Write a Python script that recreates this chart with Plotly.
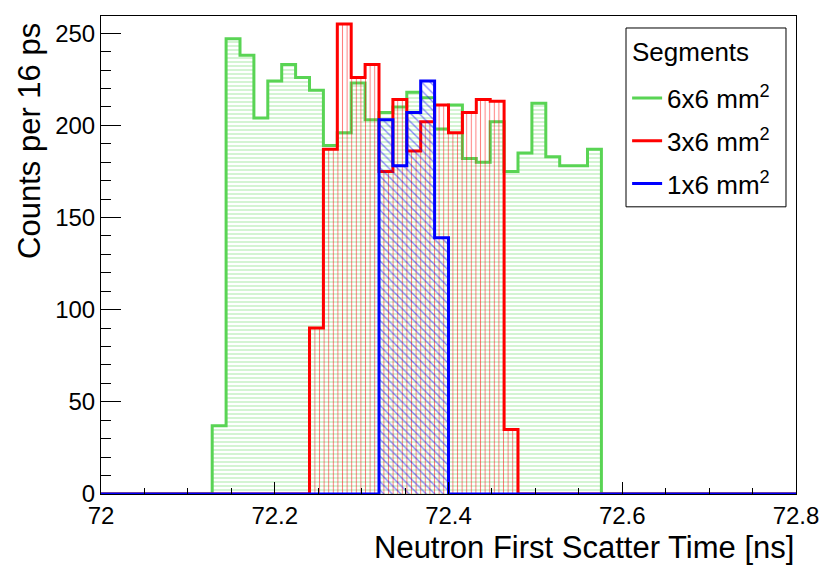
import numpy as np
import plotly.graph_objects as go

# ---- data ----
x_min, x_max, bin_width = 72.0, 72.8, 0.016
n_bins = 50

green_start = 8
green_counts = [37, 247, 238, 204, 224, 233, 226, 219, 189, 196, 223, 203, 207, 210,
                218, 215, 198, 211, 182, 180, 202, 175, 185, 212, 183, 178, 178, 187]
red_start = 15
red_counts = [90, 187, 255, 226, 233, 175, 214, 186, 202, 211, 196, 207, 214, 213, 35]
blue_start = 20
blue_counts = [203, 178, 207, 224, 139]

series_names = ["6x6 mm<sup>2</sup>", "3x6 mm<sup>2</sup>", "1x6 mm<sup>2</sup>"]
legend_title = "Segments"
x_ticks = [72.0, 72.2, 72.4, 72.6, 72.8]
x_tick_labels = ["72", "72.2", "72.4", "72.6", "72.8"]
y_ticks = [0, 50, 100, 150, 200, 250]

edges = x_min + bin_width * np.arange(n_bins + 1)


def full(start, counts):
    arr = np.zeros(n_bins)
    arr[start:start + len(counts)] = counts
    return np.append(arr, arr[-1])


styles = [
    dict(line="#59d454", hatch="rgba(89,212,84,0.6)", shape="-", size=4),
    dict(line="#ff0000", hatch="rgba(255,0,0,0.5)", shape="|", size=4.6),
    dict(line="#0000ff", hatch="rgba(0,0,255,0.45)", shape="\\", size=6),
]
data = [full(green_start, green_counts), full(red_start, red_counts), full(blue_start, blue_counts)]

fig = go.Figure()
for name, y, st in zip(series_names, data, styles):
    fig.add_trace(go.Scatter(
        x=edges, y=y, mode="lines", line=dict(shape="hv", color=st["line"], width=3),
        fill="tozeroy", fillcolor="rgba(0,0,0,0)",
        fillpattern=dict(shape=st["shape"], size=st["size"], solidity=0.22,
                         fgcolor=st["hatch"], bgcolor="rgba(0,0,0,0)", fillmode="replace"),
        showlegend=False, hoverinfo="skip"))

for i, (name, st) in enumerate(zip(series_names, styles)):
    fig.add_trace(go.Scatter(
        x=[None], y=[None], mode="lines", name=name, legendgroup=f"g{i}",
        line=dict(color=st["line"], width=3)))

font = "Liberation Sans, Arial, Helvetica, sans-serif"
fig.update_layout(
    width=830, height=573,
    margin=dict(l=101, r=34, t=16, b=78.5),
    paper_bgcolor="white", plot_bgcolor="white",
    font=dict(family=font, size=24, color="black"),
    showlegend=True,
    legend=dict(
        x=0.757, y=0.8775, xanchor="left", yanchor="top",
        borderwidth=0, bgcolor="rgba(0,0,0,0)",
        font=dict(size=26), tracegroupgap=6, itemwidth=30,
    ),
    shapes=[
        dict(type="rect", xref="paper", yref="paper", x0=0.7554, x1=0.9856,
             y0=0.6008, y1=0.9749, line=dict(color="black", width=1),
             fillcolor="white", layer="above"),
    ],
    xaxis=dict(
        range=[x_min, x_max], tickvals=x_ticks, ticktext=x_tick_labels,
        ticks="inside", ticklen=12, tickcolor="black", tickwidth=1,
        minor=dict(ticks="inside", dtick=0.05, ticklen=6, tickcolor="black", tickwidth=1),
        showline=True, linecolor="black", linewidth=1, mirror=True,
        showgrid=False, zeroline=False, tickfont=dict(size=24),
    ),
    yaxis=dict(
        range=[0, 259.3], tickvals=y_ticks,
        ticks="inside", ticklen=20, tickcolor="black", tickwidth=1,
        minor=dict(ticks="inside", dtick=10, ticklen=10, tickcolor="black", tickwidth=1),
        showline=True, linecolor="black", linewidth=1, mirror=True,
        showgrid=False, zeroline=False, tickfont=dict(size=24),
    ),
    annotations=[
        dict(text="Neutron First Scatter Time [ns]", xref="paper", yref="paper",
             x=1.0, y=-0.112, xanchor="right", yanchor="middle", showarrow=False,
             font=dict(size=31)),
        dict(text="Counts per 16 ps", xref="paper", yref="paper", textangle=-90,
             x=-0.102, y=0.99, xanchor="center", yanchor="top", showarrow=False,
             font=dict(size=31)),
        dict(text=legend_title, xref="paper", yref="paper",
             x=0.761, y=0.9248, xanchor="left", yanchor="middle", showarrow=False,
             font=dict(size=26)),
    ],
)

fig.write_html("out.html", config={"displayModeBar": False},
               post_script="document.body.style.margin='0px';")
